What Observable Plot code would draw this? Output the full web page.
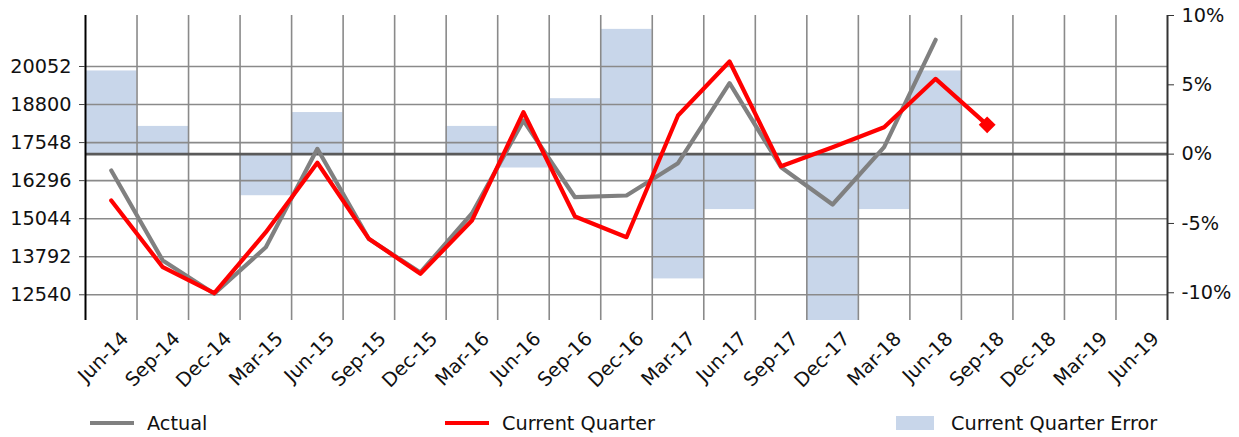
<!DOCTYPE html>
<html>
<head>
<meta charset="utf-8">
<script src="https://cdn.jsdelivr.net/npm/d3@7"></script>
<script src="https://cdn.jsdelivr.net/npm/@observablehq/plot@0.6"></script>
<style>
  html, body { margin: 0; padding: 0; background: #fff; }
  #wrap { width: 1239px; font-family: "DejaVu Sans", sans-serif; color: #111; }
  #legend { position: relative; width: 1239px; height: 42px; font-size: 19.3px; }
  .item { position: absolute; top: 17px; height: 22px; display: flex; align-items: center; }
  .item span { white-space: nowrap; }
  svg { overflow: visible; }
</style>
</head>
<body>
<div id="wrap">
  <div id="chart"></div>
  <div id="legend"></div>
</div>
<script>
const quarters = ["Jun-14","Sep-14","Dec-14","Mar-15","Jun-15","Sep-15","Dec-15","Mar-16","Jun-16","Sep-16","Dec-16","Mar-17","Jun-17","Sep-17","Dec-17","Mar-18","Jun-18","Sep-18","Dec-18","Mar-19","Jun-19"];
const actual = [16630, 13668, 12573, 14106, 17343, 14376, 13274, 15215, 18274, 15751, 15807, 16870, 19502, 16738, 15511, 17396, 20930];
const currentQuarter = [15642, 13448, 12593, 14600, 16883, 14382, 13231, 14984, 18548, 15116, 14435, 18439, 20216, 16771, 17396, 18054, 19646, 18133];
const errorPct = [6, 2, 0, -3, 3, 0, 0, 2, -1, 4, 9, -9, -4, 0, -12, -4, 6];
const yTicks = [12540, 13792, 15044, 16296, 17548, 18800, 20052];
const pctTicks = [-10, -5, 0, 5, 10];
const yDomain = [11694, 21730];
const pctDomain = [-12, 10];

const legendItems = [
  {label: "Actual", kind: "line", color: "#808080"},
  {label: "Current Quarter", kind: "line", color: "#ff0000"},
  {label: "Current Quarter Error", kind: "box", color: "#c8d6ea"}
];

// secondary (percent) scale mapped onto the primary y scale
const pctToY = p => yDomain[0] + (p - pctDomain[0]) / (pctDomain[1] - pctDomain[0]) * (yDomain[1] - yDomain[0]);
const yToPct = v => pctDomain[0] + (v - yDomain[0]) / (yDomain[1] - yDomain[0]) * (pctDomain[1] - pctDomain[0]);

const actualData = actual.map((v, i) => ({i: i + 0.5, v}));
const cqData = currentQuarter.map((v, i) => ({i: i + 0.5, v}));
const barData = errorPct.map((p, i) => ({x1: i, x2: i + 1, y1: pctToY(0), y2: pctToY(p)}));
const gridX = d3.range(1, quarters.length);
const tickPos = quarters.map((q, i) => i + 0.5);
const lastCQ = cqData.slice(-1);

const chart = Plot.plot({
  width: 1239,
  height: 395,
  marginLeft: 85,
  marginRight: 72,
  marginTop: 15,
  marginBottom: 75,
  style: {fontFamily: "DejaVu Sans, sans-serif", fontSize: "19.3px", color: "#111", background: "#fff", overflow: "visible"},
  x: {type: "linear", domain: [0, quarters.length], axis: null},
  y: {domain: yDomain, axis: null},
  marks: [
    Plot.rectY(barData, {x1: "x1", x2: "x2", y1: "y1", y2: "y2", fill: "#c8d6ea"}),
    Plot.ruleY(yTicks, {stroke: "#8a8a8a", strokeWidth: 1.6}),
    Plot.ruleX(gridX, {stroke: "#8a8a8a", strokeWidth: 1.6}),
    Plot.ruleY([pctToY(0)], {stroke: "#5a5a5a", strokeWidth: 2.6}),
    Plot.line(actualData, {x: "i", y: "v", stroke: "#808080", strokeWidth: 4.2}),
    Plot.line(cqData, {x: "i", y: "v", stroke: "#ff0000", strokeWidth: 4.2}),
    Plot.dot(lastCQ, {x: "i", y: "v", symbol: "diamond2", r: 7.6, fill: "#ff0000", stroke: "none"}),
    Plot.ruleX([0], {stroke: "#000", strokeWidth: 2}),
    Plot.ruleX([quarters.length], {stroke: "#333", strokeWidth: 2}),
    Plot.axisY({anchor: "left", ticks: yTicks, tickFormat: d3.format("d"), tickSize: 6, tickPadding: 8, stroke: "#444"}),
    Plot.axisY({anchor: "right", ticks: pctTicks.map(pctToY), tickFormat: v => `${Math.round(yToPct(v))}%`, tickSize: 6, tickPadding: 8, stroke: "#333"}),
    Plot.axisX({ticks: tickPos, tickFormat: v => quarters[Math.floor(v)], tickRotate: -45, tickSize: 0, tickPadding: 15, dx: 14})
  ]
});
document.getElementById("chart").appendChild(chart);

const lefts = [90, 445, 896];
const textLefts = [147, 502, 951];
const legend = document.getElementById("legend");
legendItems.forEach((it, k) => {
  const sw = document.createElement("div");
  sw.className = "item";
  sw.style.left = lefts[k] + "px";
  const s = document.createElement("div");
  if (it.kind === "line") {
    s.style.width = "44px"; s.style.height = "4.5px";
  } else {
    s.style.width = "38px"; s.style.height = "13.5px";
  }
  s.style.background = it.color;
  sw.appendChild(s);
  legend.appendChild(sw);
  const t = document.createElement("div");
  t.className = "item";
  t.style.left = textLefts[k] + "px";
  const sp = document.createElement("span");
  sp.textContent = it.label;
  t.appendChild(sp);
  legend.appendChild(t);
});
</script>
</body>
</html>
